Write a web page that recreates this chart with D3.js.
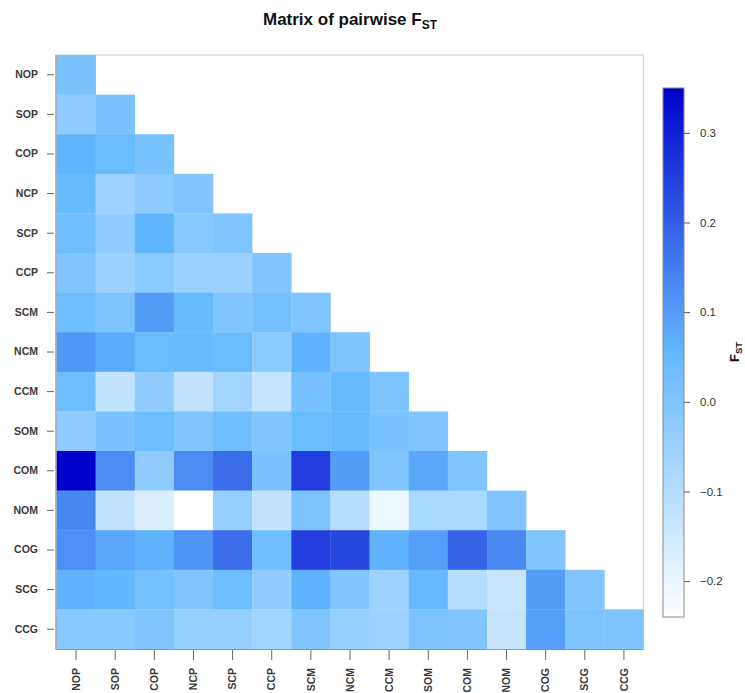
<!DOCTYPE html>
<html>
<head>
<meta charset="utf-8">
<script src="https://cdn.jsdelivr.net/npm/d3@7"></script>
<style>
  html, body { margin: 0; padding: 0; background: #fff; }
  svg { display: block; font-family: "Liberation Sans", Arial, sans-serif; }
</style>
</head>
<body>
<svg id="chart" width="745" height="693"></svg>
<script>
// ---- data ----
const populations = ["NOP","SOP","COP","NCP","SCP","CCP","SCM","NCM","CCM","SOM","COM","NOM","COG","SCG","CCG"];

// lower-triangular pairwise FST, row i has values for columns 0..i
const rowNOP = [0.01];
const rowSOP = [-0.03, 0.01];
const rowCOP = [0.06, 0.04, 0.015];
const rowNCP = [0.045, -0.055, -0.025, 0.0];
const rowSCP = [0.03, -0.03, 0.06, -0.015, 0.0];
const rowCCP = [0.0, -0.05, -0.02, -0.05, -0.05, 0.0];
const rowSCM = [0.035, 0.005, 0.1, 0.045, 0.0, 0.02, 0.0];
const rowNCM = [0.11, 0.075, 0.04, 0.045, 0.04, -0.02, 0.065, 0.005];
const rowCCM = [0.035, -0.125, -0.03, -0.12, -0.065, -0.13, 0.02, 0.045, 0.005];
const rowSOM = [-0.03, 0.01, 0.035, 0.0, 0.03, 0.0, 0.04, 0.045, 0.01, 0.0];
const rowCOM = [0.35, 0.125, -0.03, 0.125, 0.175, 0.01, 0.25, 0.1, 0.0, 0.08, 0.0];
const rowNOM = [0.135, -0.12, -0.17, -0.24, -0.04, -0.125, 0.005, -0.1, -0.205, -0.075, -0.075, 0.0];
const rowCOG = [0.12, 0.08, 0.065, 0.115, 0.175, 0.03, 0.25, 0.235, 0.065, 0.095, 0.19, 0.13, 0.0];
const rowSCG = [0.065, 0.055, 0.02, 0.0, 0.035, -0.03, 0.065, 0.0, -0.055, 0.05, -0.1, -0.135, 0.1, 0.0];
const rowCCG = [-0.015, -0.015, 0.0, -0.04, -0.04, -0.06, 0.0, -0.04, -0.055, 0.005, 0.0, -0.13, 0.095, 0.005, 0.005];

const fstRows = [rowNOP,rowSOP,rowCOP,rowNCP,rowSCP,rowCCP,rowSCM,rowNCM,rowCCM,rowSOM,rowCOM,rowNOM,rowCOG,rowSCG,rowCCG];
const colorbarTicks = [-0.2, -0.1, 0.0, 0.1, 0.2, 0.3];

// ---- build cells ----
const cells = [];
fstRows.forEach((row, i) => row.forEach((v, j) => cells.push({row: populations[i], col: populations[j], value: v})));

const svg = d3.select("#chart");

const x = d3.scaleBand().domain(populations).range([56.5, 643.5]).padding(0);
const y = d3.scaleBand().domain(populations).range([55, 649]).padding(0);

const vmin = d3.min(cells, d => d.value);
const vmax = d3.max(cells, d => d.value);
const vmid = (vmin + vmax) / 2;
const color = d3.scaleLinear()
  .domain([vmin, vmid, vmax])
  .range(["#ffffff", "#63B8FF", "#0000CD"])
  .interpolate(d3.interpolateRgb);

// panel frame
svg.append("rect")
  .attr("x", 56).attr("y", 55)
  .attr("width", 643.5 - 56).attr("height", 649 - 55)
  .attr("fill", "#fff").attr("stroke", "#d4d4d4").attr("stroke-width", 1.2);

// cells
svg.append("g").selectAll("rect")
  .data(cells)
  .join("rect")
  .attr("x", d => x(d.col))
  .attr("y", d => y(d.row))
  .attr("width", x.bandwidth() + 0.3)
  .attr("height", y.bandwidth() + 0.3)
  .attr("fill", d => color(d.value));

// left & bottom frame lines
svg.append("line").attr("x1", 56).attr("x2", 56).attr("y1", 55).attr("y2", 649.5)
  .attr("stroke", "#9a9a9a").attr("stroke-width", 1.2);
svg.append("line").attr("x1", 56).attr("x2", 643.5).attr("y1", 649.5).attr("y2", 649.5)
  .attr("stroke", "#8a98a8").attr("stroke-width", 1.2);

// y axis
const yAxis = svg.append("g")
  .attr("transform", "translate(54,0)")
  .call(d3.axisLeft(y).tickSize(7).tickPadding(9));
yAxis.select(".domain").remove();
yAxis.selectAll(".tick line").attr("stroke", "#666");
yAxis.selectAll(".tick text")
  .attr("fill", "#3a3a3a")
  .style("font-size", "10.5px")
  .style("font-weight", "bold")
  .style("font-family", "'Liberation Sans', Arial, sans-serif");

// x axis
const xAxis = svg.append("g")
  .attr("transform", "translate(0,650)")
  .call(d3.axisBottom(x).tickSize(10).tickPadding(0));
xAxis.select(".domain").remove();
xAxis.selectAll(".tick line").attr("stroke", "#666");
xAxis.selectAll(".tick text")
  .attr("fill", "#3a3a3a")
  .style("font-size", "10.5px")
  .style("font-weight", "bold")
  .style("font-family", "'Liberation Sans', Arial, sans-serif")
  .attr("text-anchor", "end")
  .attr("dy", "0.35em")
  .attr("transform", "translate(0,18) rotate(-90)")
  .attr("x", 0).attr("y", 0);

// title
const title = svg.append("text")
  .attr("x", 350).attr("y", 25)
  .attr("text-anchor", "middle")
  .style("font-size", "17px")
  .style("font-weight", "bold")
  .attr("fill", "#111");
title.append("tspan").text("Matrix of pairwise F");
title.append("tspan").attr("dy", 4).style("font-size", "12px").text("ST");

// colorbar
const cb = {x: 663, w: 21, top: 88, bottom: 617};
const cy = d3.scaleLinear().domain([vmin, vmax]).range([cb.bottom, cb.top]);
const defs = svg.append("defs");
const grad = defs.append("linearGradient").attr("id", "fstgrad")
  .attr("x1", 0).attr("y1", 1).attr("x2", 0).attr("y2", 0);
d3.range(0, 1.0001, 0.05).forEach(t => {
  grad.append("stop").attr("offset", t).attr("stop-color", color(vmin + t * (vmax - vmin)));
});
svg.append("rect")
  .attr("x", cb.x).attr("y", cb.top)
  .attr("width", cb.w).attr("height", cb.bottom - cb.top)
  .attr("fill", "url(#fstgrad)")
  .attr("stroke", "#8a8a8a").attr("stroke-width", 1);

const cAxis = svg.append("g")
  .attr("transform", `translate(${cb.x + cb.w},0)`)
  .call(d3.axisRight(cy).tickValues(colorbarTicks).tickFormat(d3.format(".1f")).tickSize(6).tickPadding(10));
cAxis.select(".domain").remove();
cAxis.selectAll(".tick line").attr("stroke", "#555");
cAxis.selectAll(".tick text")
  .attr("fill", "#333")
  .style("font-size", "11.5px")
  .style("font-family", "'Liberation Sans', Arial, sans-serif");

// colorbar title
const ct = svg.append("text")
  .attr("transform", "translate(739,352) rotate(-90)")
  .attr("text-anchor", "middle")
  .style("font-size", "13px")
  .style("font-weight", "bold")
  .attr("fill", "#111");
ct.append("tspan").text("F");
ct.append("tspan").attr("dy", 3).style("font-size", "9.5px").text("ST");
</script>
</body>
</html>
